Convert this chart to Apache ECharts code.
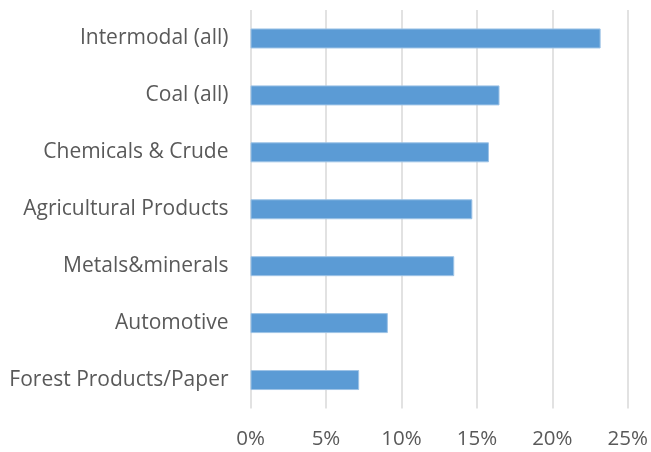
<!DOCTYPE html>
<html>
<head>
<meta charset="utf-8">
<script src="https://cdn.jsdelivr.net/npm/echarts@6/dist/echarts.min.js"></script>
<style>
  html, body { margin: 0; padding: 0; background: #ffffff; }
  #chart { width: 651px; height: 452px; }
</style>
</head>
<body>
<div id="chart"></div>
<script>
// Freight categories, listed top to bottom
const categories = [
  'Intermodal (all)',
  'Coal (all)',
  'Chemicals & Crude',
  'Agricultural Products',
  'Metals&minerals',
  'Automotive',
  'Forest Products/Paper'
];
// Share values in percent, same order as categories
const shares = [23.2, 16.5, 15.8, 14.7, 13.5, 9.1, 7.2];
// Value-axis ticks (percent)
const tickValues = [0, 5, 10, 15, 20, 25];

const FONT = '"Open Sans", "Noto Sans", sans-serif';
const TEXT = '#595959';
const GRID = '#d9d9d9';

const chart = echarts.init(document.getElementById('chart'), null, { renderer: 'canvas' });
chart.setOption({
  animation: false,
  backgroundColor: '#ffffff',
  grid: { left: 250.5, right: 19.5, top: 10, bottom: 43.5, containLabel: false },
  xAxis: {
    type: 'value',
    min: tickValues[0],
    max: tickValues[tickValues.length - 1],
    interval: tickValues[1] - tickValues[0],
    axisLine: { show: false },
    axisTick: { show: false },
    splitLine: { show: true, lineStyle: { color: GRID, width: 1.5 } },
    axisLabel: {
      color: TEXT, fontFamily: FONT, fontSize: 20.5, margin: 20,
      formatter: v => v + '%'
    }
  },
  yAxis: {
    type: 'category',
    inverse: true,
    data: categories,
    axisLine: { show: false },
    axisTick: { show: false },
    splitLine: { show: false },
    axisLabel: { color: TEXT, fontFamily: FONT, fontSize: 21, margin: 22 }
  },
  series: [{
    type: 'bar',
    data: shares,
    barWidth: 20,
    itemStyle: { color: '#5b9bd5', borderColor: '#9dc3e6', borderWidth: 1 }
  }]
});
</script>
</body>
</html>
